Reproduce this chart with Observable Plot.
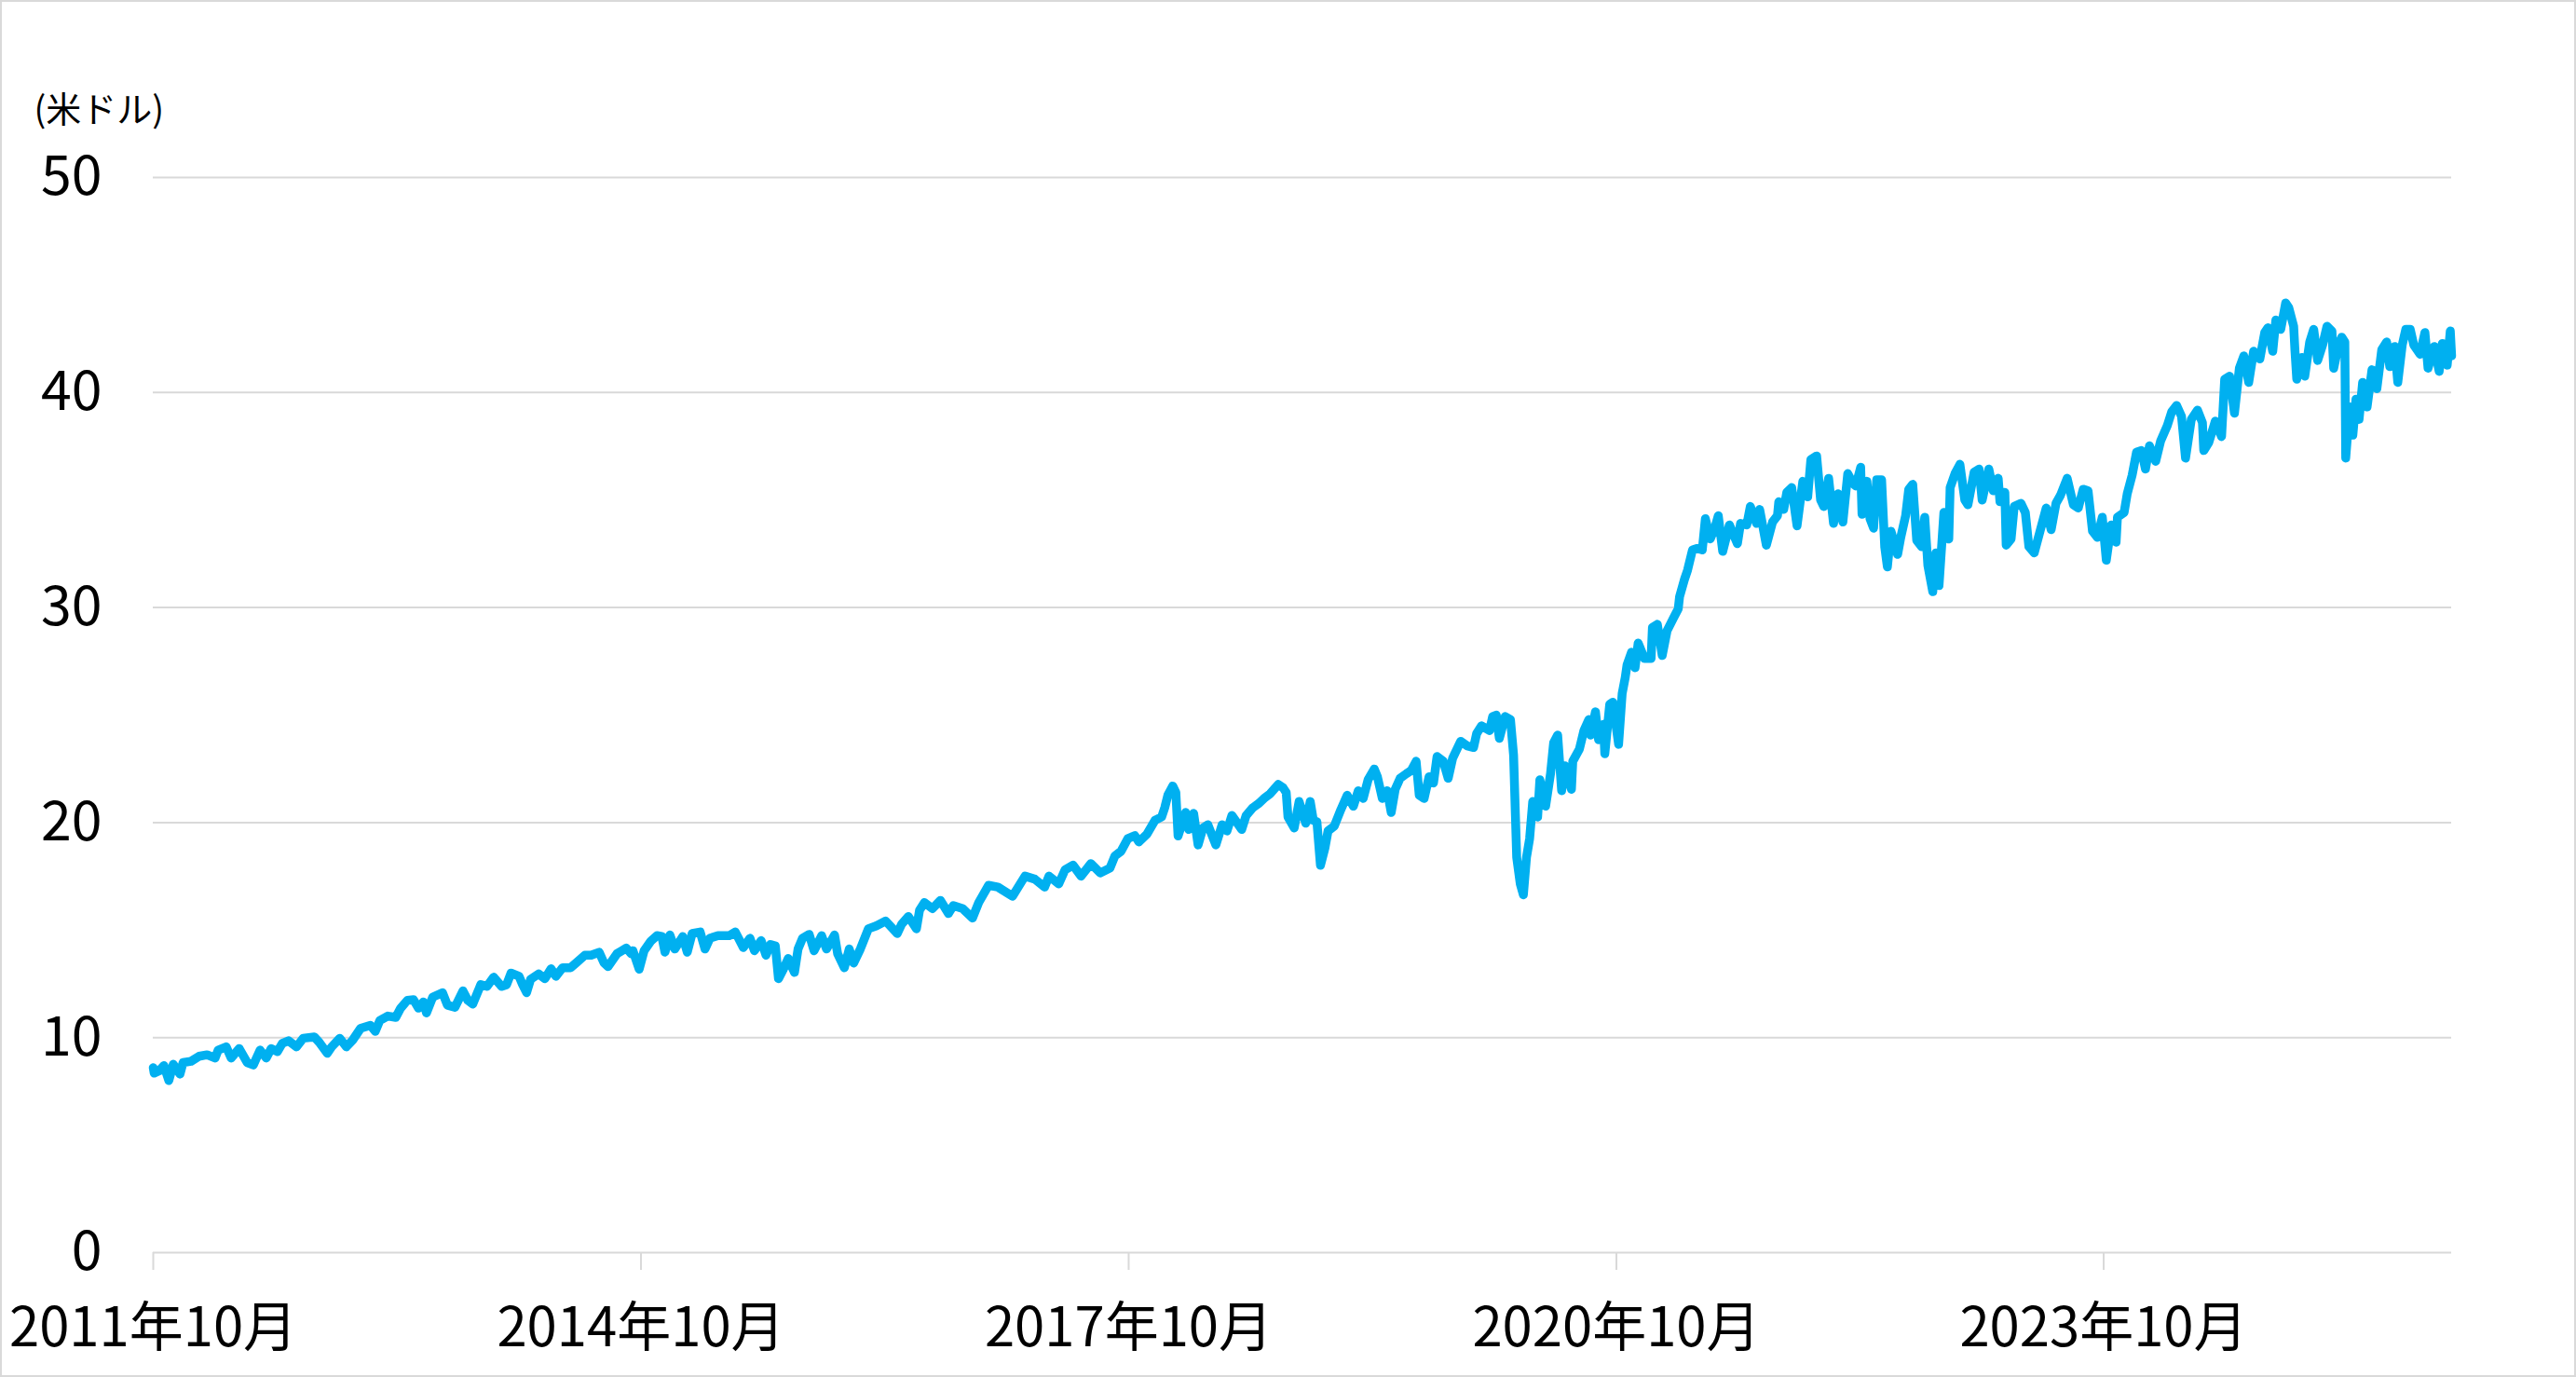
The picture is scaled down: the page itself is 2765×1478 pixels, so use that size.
<!DOCTYPE html>
<html>
<head>
<meta charset="utf-8">
<script src="https://cdn.jsdelivr.net/npm/d3@7"></script>
<script src="https://cdn.jsdelivr.net/npm/@observablehq/plot@0.6"></script>
<style>
html, body { margin: 0; padding: 0; background: #fff; }
#wrap { position: relative; width: 2765px; height: 1478px; overflow: hidden; }
#border { position: absolute; left: 0; top: 0; width: 2765px; height: 1478px; box-sizing: border-box; border: 2px solid #d9d9d9; pointer-events: none; }
</style>
</head>
<body>
<div id="wrap"><div id="border"></div></div>
<script>
const unitLabel = "(米ドル)";
const yTicks = [0, 10, 20, 30, 40, 50];
const xTickDates = ["2011-10-01", "2014-10-01", "2017-10-01", "2020-10-01", "2023-10-01"];
const xTickLabels = ["2011年10月", "2014年10月", "2017年10月", "2020年10月", "2023年10月"];

const dates = [
"2011-10-01","2011-10-03","2011-10-14","2011-10-25","2011-11-05","2011-11-15","2011-11-30","2011-12-07","2011-12-25",
"2012-01-12","2012-01-30","2012-02-17","2012-02-24","2012-03-13","2012-03-24","2012-04-11","2012-04-29","2012-05-13","2012-05-28",
"2012-06-11","2012-06-22","2012-07-06","2012-07-17","2012-07-31","2012-08-18","2012-09-02","2012-09-27","2012-10-08","2012-10-26",
"2012-11-05","2012-11-23","2012-12-08","2012-12-22",
"2013-01-09","2013-01-31","2013-02-11","2013-02-21","2013-03-11","2013-03-29","2013-04-09","2013-04-24","2013-05-08","2013-05-19",
"2013-05-30","2013-06-06","2013-06-20","2013-07-12","2013-07-23","2013-08-09","2013-08-27","2013-09-07","2013-09-18","2013-10-06",
"2013-10-20","2013-11-04","2013-11-22","2013-12-03","2013-12-13","2013-12-31",
"2014-01-08","2014-01-17","2014-01-26","2014-02-13","2014-02-27","2014-03-13","2014-03-24","2014-04-08","2014-04-26","2014-05-10",
"2014-05-28","2014-06-11","2014-06-29","2014-07-10","2014-07-19","2014-08-08","2014-08-29","2014-09-09",
"2014-09-13","2014-09-27","2014-10-08","2014-10-23","2014-11-06","2014-11-17","2014-11-24","2014-12-05","2014-12-16",
"2015-01-03","2015-01-13","2015-01-24","2015-02-11","2015-02-22","2015-03-05","2015-03-23","2015-04-17","2015-05-01","2015-05-19",
"2015-06-03","2015-06-13","2015-06-28","2015-07-09","2015-07-19","2015-07-30","2015-08-06","2015-08-17","2015-08-28","2015-09-11",
"2015-09-19","2015-09-29","2015-10-14","2015-10-25","2015-11-11","2015-11-22","2015-12-10","2015-12-17",
"2016-01-01","2016-01-12","2016-01-22","2016-02-06","2016-02-24","2016-03-13","2016-04-03","2016-04-29","2016-05-09","2016-05-24",
"2016-06-11","2016-06-18","2016-06-29","2016-07-17","2016-08-04","2016-08-22","2016-09-02","2016-09-23","2016-10-15","2016-10-29",
"2016-11-20","2016-12-11",
"2017-01-13","2017-02-10","2017-03-04","2017-03-26","2017-04-05","2017-04-27","2017-05-11","2017-05-29","2017-06-16","2017-07-08",
"2017-07-29","2017-08-20","2017-08-31","2017-09-14","2017-09-29","2017-10-15",
"2017-10-24","2017-11-11","2017-11-29","2017-12-14","2017-12-21","2017-12-28",
"2018-01-08","2018-01-15","2018-01-20","2018-02-06","2018-02-13","2018-02-24","2018-03-06","2018-03-17","2018-03-28","2018-04-15",
"2018-04-29","2018-05-10","2018-05-21","2018-06-12","2018-06-22","2018-07-07","2018-07-21","2018-08-01","2018-08-15","2018-09-02",
"2018-09-13","2018-09-20","2018-09-24","2018-10-08","2018-10-19","2018-11-03","2018-11-13","2018-11-20","2018-11-28","2018-12-06",
"2018-12-16","2018-12-23",
"2019-01-06","2019-01-21","2019-02-04","2019-02-18","2019-03-01","2019-03-12","2019-03-23","2019-04-06","2019-04-13","2019-04-24",
"2019-05-05","2019-05-14","2019-05-23","2019-06-03","2019-06-17","2019-06-28","2019-07-09","2019-07-16","2019-07-27","2019-08-07",
"2019-08-17","2019-08-25","2019-09-08","2019-09-19","2019-09-29","2019-10-17","2019-11-01","2019-11-15","2019-11-22","2019-12-03",
"2019-12-21","2019-12-28",
"2020-01-05","2020-01-12","2020-01-25","2020-02-06","2020-02-13","2020-02-17","2020-02-20","2020-02-28","2020-03-06","2020-03-13",
"2020-03-20","2020-03-27","2020-04-07","2020-04-12","2020-04-25","2020-05-06","2020-05-13","2020-05-22","2020-05-31","2020-06-07",
"2020-06-22","2020-06-25","2020-07-10","2020-07-20","2020-07-31","2020-08-04","2020-08-15","2020-08-22","2020-09-02","2020-09-05",
"2020-09-16","2020-09-23","2020-10-06",
"2020-10-14","2020-10-21","2020-10-25","2020-11-04","2020-11-12","2020-11-19","2020-12-03","2020-12-18","2020-12-21",
"2021-01-01","2021-01-12","2021-01-23","2021-02-06","2021-02-17","2021-02-20","2021-03-03","2021-03-10","2021-03-21","2021-04-01",
"2021-04-12","2021-04-19","2021-04-30","2021-05-10","2021-05-18","2021-05-28","2021-06-12","2021-06-30","2021-07-07","2021-07-21",
"2021-07-29","2021-08-12","2021-08-19","2021-09-03","2021-09-17","2021-09-28","2021-10-01","2021-10-12","2021-10-19","2021-10-30",
"2021-11-11","2021-11-24","2021-12-05","2021-12-12","2021-12-25",
"2022-01-03","2022-01-10","2022-01-21","2022-02-01","2022-02-11","2022-02-22","2022-03-05","2022-03-16","2022-03-23","2022-04-03",
"2022-04-06","2022-04-17","2022-04-24","2022-05-02","2022-05-09","2022-05-20","2022-05-27","2022-06-02","2022-06-10","2022-06-25",
"2022-07-02","2022-07-13","2022-07-20","2022-07-29","2022-08-07","2022-08-18","2022-08-25","2022-09-01","2022-09-12","2022-09-19",
"2022-09-26","2022-10-07","2022-10-18","2022-10-21","2022-11-01","2022-11-12","2022-11-23","2022-11-30","2022-12-14","2022-12-25",
"2023-01-01","2023-01-16","2023-01-26","2023-02-06","2023-02-10","2023-02-21","2023-02-24","2023-03-07","2023-03-14","2023-03-29",
"2023-04-08","2023-04-16","2023-04-28","2023-05-11","2023-05-25","2023-06-05","2023-06-16","2023-06-26","2023-07-11","2023-07-25",
"2023-08-05","2023-08-16","2023-08-27","2023-09-06","2023-09-17","2023-09-28","2023-10-07",
"2023-10-18","2023-10-29","2023-11-01","2023-11-16","2023-11-23","2023-12-04","2023-12-14","2023-12-25",
"2024-01-03","2024-01-12","2024-01-26","2024-02-06","2024-02-21","2024-03-02","2024-03-13","2024-03-24","2024-04-02","2024-04-15",
"2024-04-29","2024-05-10","2024-05-13","2024-05-24","2024-06-08","2024-06-22","2024-06-29","2024-07-10","2024-07-21","2024-08-01",
"2024-08-11","2024-08-22","2024-09-02","2024-09-16","2024-09-27","2024-10-04","2024-10-15","2024-10-22","2024-11-02","2024-11-13",
"2024-11-20","2024-12-01","2024-12-04","2024-12-08","2024-12-19","2024-12-26",
"2025-01-06","2025-01-15","2025-01-24","2025-02-04","2025-02-14","2025-02-25","2025-03-01","2025-03-12","2025-03-19","2025-03-26",
"2025-03-28","2025-04-06","2025-04-13","2025-04-20","2025-04-27","2025-05-05","2025-05-15","2025-05-26","2025-06-06","2025-06-17",
"2025-06-28","2025-07-05","2025-07-16","2025-07-23","2025-08-02","2025-08-10","2025-08-20","2025-08-28","2025-09-11","2025-09-22",
"2025-09-29","2025-10-13","2025-10-24","2025-10-31","2025-11-11","2025-11-18","2025-11-21"
];

const values = [
8.6,8.35,8.45,8.7,8.0,8.76,8.3,8.84,8.9,
9.13,9.2,9.05,9.42,9.57,9.05,9.49,8.84,8.73,9.42,
9.05,9.49,9.35,9.73,9.85,9.57,9.97,10.03,9.78,9.27,
9.57,9.97,9.57,9.88,
10.43,10.57,10.29,10.79,11.0,10.94,11.37,11.73,11.76,11.37,
11.66,11.15,11.88,12.09,11.51,11.41,12.17,11.73,11.56,12.46,
12.38,12.81,12.38,12.46,13.0,12.85,
12.46,12.09,12.71,12.96,12.74,13.2,12.85,13.25,13.25,13.5,
13.83,13.83,13.97,13.47,13.3,13.9,14.16,13.9,
14.04,13.18,14.04,14.48,14.74,14.7,13.97,14.77,14.12,
14.7,13.97,14.84,14.91,14.12,14.62,14.74,14.74,14.91,14.19,
14.62,14.04,14.51,13.83,14.33,14.26,12.74,13.18,13.68,13.03,
14.12,14.62,14.8,14.04,14.74,14.12,14.77,13.9,
13.25,14.12,13.47,14.12,15.06,15.2,15.42,14.84,15.28,15.63,
15.06,15.92,16.28,16.0,16.38,15.77,16.14,16.0,15.56,16.28,
17.08,17.0,
16.57,17.51,17.37,17.0,17.51,17.15,17.8,18.02,17.51,18.09,
17.66,17.88,18.45,18.67,19.25,19.39,
19.1,19.46,20.1,20.26,20.69,21.27,
21.7,21.4,19.38,20.47,19.68,20.43,18.96,19.75,19.9,18.96,
19.9,19.61,20.33,19.68,20.33,20.69,20.9,21.12,21.34,21.77,
21.62,21.4,20.26,19.75,20.98,19.97,20.98,20.1,20.04,18.01,
18.81,19.61,
19.83,20.61,21.27,20.76,21.48,21.12,21.99,22.49,22.13,21.12,
21.48,20.47,21.55,22.06,22.27,22.42,22.85,21.27,21.12,22.13,
21.84,23.07,22.85,22.06,22.99,23.78,23.56,23.49,24.14,24.5,
24.28,24.93,
25.0,23.92,24.93,24.79,23.13,20.4,18.38,17.15,16.64,18.38,
19.25,20.98,20.26,21.99,20.76,22.27,23.71,24.07,21.48,22.64,
21.55,22.85,23.42,24.28,24.79,24.07,25.15,23.85,24.57,23.2,
25.5,25.6,23.64,
26.0,26.76,27.34,27.92,27.2,28.35,27.63,27.63,29.07,
29.22,27.77,28.93,29.5,29.94,30.5,31.31,31.74,32.68,32.75,
32.68,34.13,33.19,33.69,34.27,32.61,33.84,32.97,33.91,33.84,
34.7,33.91,34.56,32.9,33.98,34.27,34.92,34.56,35.36,35.58,
33.8,35.87,35.15,36.88,37.05,
35.0,34.7,36.01,33.91,35.29,33.98,36.23,35.79,35.65,36.52,
34.34,35.87,34.13,33.69,35.94,35.94,32.83,31.89,33.55,32.47,
33.26,34.27,35.5,35.73,33.12,32.83,34.2,31.96,30.74,32.54,
31.02,34.42,33.19,35.58,36.23,36.66,35.0,34.78,36.3,36.44,
35.0,36.44,35.43,36.01,34.92,35.36,32.9,33.19,34.7,34.85,
34.42,32.83,32.54,33.55,34.63,33.62,34.85,35.22,36.01,34.78,
34.63,35.5,35.43,33.55,33.26,34.2,32.2,
33.84,33.04,34.2,34.42,35.29,36.15,37.23,37.3,
36.44,37.52,36.8,37.74,38.46,39.11,39.4,38.89,36.95,38.75,
39.18,38.6,37.3,37.66,38.67,37.95,40.62,40.76,39.04,41.13,
41.7,40.47,41.92,41.56,42.79,43.01,41.92,43.37,42.94,44.16,
43.95,43.08,41.92,40.62,41.63,40.76,
42.35,42.94,41.49,42.21,43.08,42.86,41.13,42.21,42.57,42.35,
36.95,39.33,38.02,39.69,38.75,40.47,39.33,41.06,40.18,41.99,
42.35,41.2,42.14,40.47,42.21,42.94,42.94,42.21,41.78,42.79,
41.13,42.14,40.98,42.28,41.27,42.86,41.7
];

const data = dates.map((d, i) => ({date: new Date(d), value: values[i]}));
const tickDates = xTickDates.map(d => new Date(d));
const labelByTime = new Map(tickDates.map((d, i) => [+d, xTickLabels[i]]));

const chart = Plot.plot({
  width: 2765,
  height: 1478,
  marginLeft: 164,
  marginRight: 134,
  marginTop: 190,
  marginBottom: 134,
  style: {fontFamily: "'Noto Sans CJK JP', sans-serif", background: "transparent", color: "#000", overflow: "visible"},
  x: {type: "utc", domain: [tickDates[0], data[data.length - 1].date]},
  y: {domain: [0, 50]},
  marks: [
    Plot.gridY(yTicks, {stroke: "#d9d9d9", strokeOpacity: 1, strokeWidth: 2}),
    Plot.axisY(yTicks, {tickSize: 0, tickPadding: 55, fontSize: 59, fill: "#000", label: null}),
    Plot.axisX(tickDates, {tickSize: 19, tickPadding: 40, fontSize: 58, stroke: "#d9d9d9", strokeWidth: 2, strokeOpacity: 1, fill: "#000", tickFormat: d => labelByTime.get(+d), label: null}),
    Plot.lineY(data, {x: "date", y: "value", stroke: "#00b0f0", strokeWidth: 9.5, strokeLinejoin: "round", strokeLinecap: "round"}),
    Plot.text([unitLabel], {text: d => d, frameAnchor: "top-left", dx: -128, dy: -86, textAnchor: "start", fontSize: 38, fill: "#000"})
  ]
});
document.getElementById("wrap").insertBefore(chart, document.getElementById("border"));
</script>
</body>
</html>
